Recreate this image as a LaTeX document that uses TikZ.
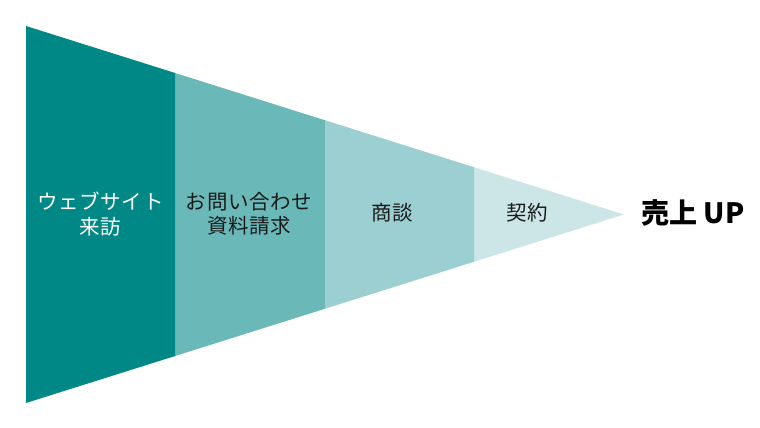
\documentclass[tikz,border=0pt]{standalone}
\usepackage{fontspec}
\setmainfont{Noto Sans CJK JP}
\usetikzlibrary{calc}
\definecolor{segA}{HTML}{008886}
\definecolor{segB}{HTML}{6AB8B8}
\definecolor{segC}{HTML}{9BCFD1}
\definecolor{segD}{HTML}{CCE6E7}
\definecolor{txt}{HTML}{1A1A1A}
\tikzset{
  lbl/.style={align=center, inner sep=0pt, font=\fontsize{20.5}{24.5}\selectfont\addfontfeatures{LetterSpace=3}, text=txt},
  lblw/.style={lbl, text=white},
  big/.style={inner sep=0pt, font=\fontsize{28}{30}\selectfont\bfseries, text=black},
}
\begin{document}
\begin{tikzpicture}[x=1pt,y=-1pt]
\useasboundingbox (0,0) rectangle (760,428);
\coordinate (T0) at (26,26);
\coordinate (B0) at (26,403);
\coordinate (A) at (624,214.5);
\coordinate (T1) at ($(T0)!0.25!(A)$);
\coordinate (B1) at ($(B0)!0.25!(A)$);
\coordinate (T2) at ($(T0)!0.5!(A)$);
\coordinate (B2) at ($(B0)!0.5!(A)$);
\coordinate (T3) at ($(T0)!0.75!(A)$);
\coordinate (B3) at ($(B0)!0.75!(A)$);
\fill[segA] (T0) -- (T1) -- (B1) -- (B0) -- cycle;
\fill[segB] (T1) -- (T2) -- (B2) -- (B1) -- cycle;
\fill[segC] (T2) -- (T3) -- (B3) -- (B2) -- cycle;
\fill[segD] (T3) -- (A) -- (B3) -- cycle;
\node[lblw] (l1) at (100.5,214) {ウェブサイト\\来訪};
\node[lbl] (l2) at (249,214) {お問い合わせ\\資料請求};
\node[lbl] (l3) at (392.5,213) {商談};
\node[lbl] (l4) at (527.5,213) {契約};
\node[big] (up) at (693,213) {売上 UP};
\end{tikzpicture}
\end{document}
